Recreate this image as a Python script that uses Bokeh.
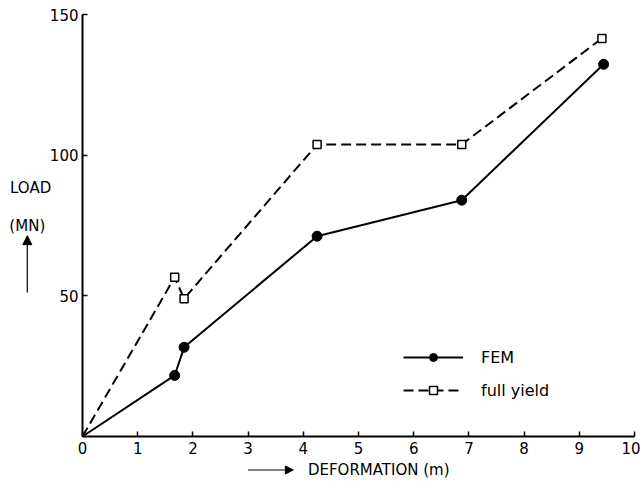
from bokeh.plotting import figure
from bokeh.models import Range1d, FixedTicker, Legend, LegendItem, Label, Arrow, NormalHead
from bokeh.embed import file_html
from bokeh.resources import INLINE

# Data
fem_x = [0, 1.67, 1.84, 4.25, 6.87, 9.44]
fem_y = [0, 21.7, 31.7, 71.2, 84.0, 132.3]
fy_x = [0, 1.67, 1.84, 4.25, 6.87, 9.41]
fy_y = [0, 56.6, 49.0, 103.8, 103.8, 141.5]
x_ticks = [0, 1, 2, 3, 4, 5, 6, 7, 8, 9, 10]
y_ticks = [50, 100, 150]

FONT = "DejaVu Sans"

p = figure(width=640, height=480, output_backend="svg", toolbar_location=None,
           x_range=Range1d(-1.4855, 10.1087), y_range=Range1d(-15.64, 154.98),
           min_border_left=0, min_border_right=0, min_border_top=0, min_border_bottom=0)
p.outline_line_color = None
p.xgrid.visible = False
p.ygrid.visible = False
p.background_fill_color = "white"

for ax in (p.xaxis[0], p.yaxis[0]):
    ax.axis_line_width = 2
    ax.axis_line_color = "black"
    ax.major_tick_in = 5
    ax.major_tick_out = 0
    ax.minor_tick_line_color = None
    ax.major_tick_line_width = 1.5
    ax.major_label_text_font = FONT
    ax.major_label_text_font_size = "15px"
    ax.major_label_text_color = "black"
    ax.fixed_location = 0
p.xaxis[0].ticker = FixedTicker(ticks=x_ticks)
p.yaxis[0].ticker = FixedTicker(ticks=y_ticks)
p.xaxis[0].bounds = (0, 10)
p.yaxis[0].bounds = (0, 150)
p.xaxis[0].major_label_standoff = 5
p.yaxis[0].major_label_standoff = 4

r_fem_l = p.line(fem_x, fem_y, line_color="black", line_width=2)
r_fem_m = p.scatter(fem_x[1:], fem_y[1:], marker="circle", size=10, fill_color="black", line_color="black")
r_fy_l = p.line(fy_x, fy_y, line_color="black", line_width=2, line_dash="10 5")
r_fy_m = p.scatter(fy_x[1:], fy_y[1:], marker="square", size=8, fill_color="white", line_color="black", line_width=1.5)

legend = Legend(items=[LegendItem(label="FEM", renderers=[r_fem_l, r_fem_m]),
                       LegendItem(label="full yield", renderers=[r_fy_l, r_fy_m])],
                location=(403, 80), glyph_width=60, glyph_height=20, spacing=13,
                label_standoff=18, padding=0, margin=0, border_line_color=None,
                background_fill_alpha=0, label_text_font=FONT, label_text_font_size="16px",
                label_text_color="black")
p.add_layout(legend, "center")

p.add_layout(Label(x=-0.94, y=88.2, text="LOAD", text_font=FONT, text_font_size="15px",
                   text_align="center", text_baseline="middle", text_color="black"))
p.add_layout(Label(x=-1.0, y=75.0, text="(MN)", text_font=FONT, text_font_size="15px",
                   text_align="center", text_baseline="middle", text_color="black"))
p.add_layout(Arrow(x_start=-1.0, y_start=51.2, x_end=-1.0, y_end=71.4, line_width=1.2,
                   end=NormalHead(size=9, fill_color="black", line_color="black")))
p.add_layout(Label(x=5.41, y=-11.9, text="DEFORMATION  (m)", text_font=FONT, text_font_size="15px",
                   text_align="center", text_baseline="middle", text_color="black"))
p.add_layout(Arrow(x_start=3.0, y_start=-11.9, x_end=3.82, y_end=-11.9, line_width=1.2,
                   end=NormalHead(size=8, fill_color="black", line_color="black")))

open("out.html", "w").write(file_html(p, INLINE))
